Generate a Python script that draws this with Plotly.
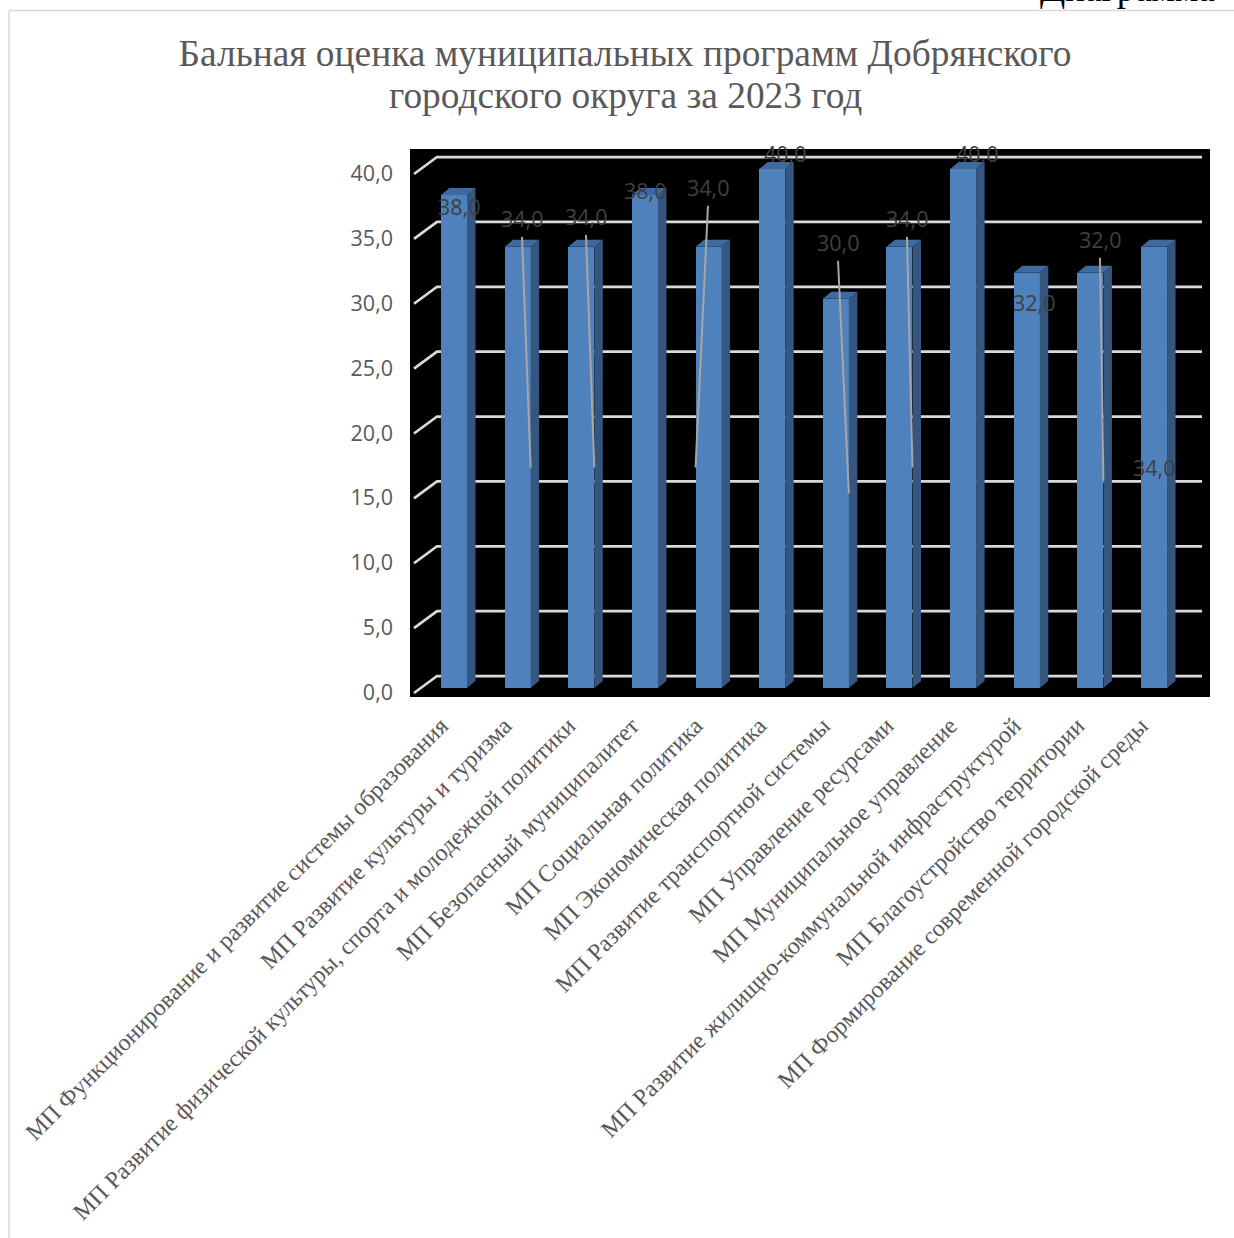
import plotly.graph_objects as go

title_line1 = "Бальная оценка муниципальных программ Добрянского"
title_line2 = "городского округа за 2023 год"
categories = [
    "МП Функционирование и развитие системы образования",
    "МП Развитие культуры и туризма",
    "МП Развитие физической культуры, спорта и молодежной политики",
    "МП Безопасный муниципалитет",
    "МП Социальная политика",
    "МП Экономическая политика",
    "МП Развитие транспортной системы",
    "МП Управление ресурсами",
    "МП Муниципальное управление",
    "МП Развитие жилищно-коммунальной инфраструктурой",
    "МП Благоустройство территории",
    "МП Формирование современной городской среды",
]
values = [38.0, 34.0, 34.0, 38.0, 34.0, 40.0, 30.0, 34.0, 40.0, 32.0, 32.0, 34.0]
y_ticks = [0, 5, 10, 15, 20, 25, 30, 35, 40]

# Layout constants (pixels)
W, H = 1234, 1238
L, R, T, B = 410, 1210, 149, 697
X0, XS = 454.0, 63.64      # px of category 0, px per category
Y0_BAR, Y0_TICK, YS = 688.0, 692.5, 12.975
BAR_W = 26.0
DX, DY = 8.5, 7.0

# label centre offset (px) from the bar-front-top point; leader side (+1 right, -1 left, 0 none)
leader_sides = [0, 1, 1, 0, -1, 0, 1, 1, 0, 0, 1, 0]
label_offsets = [
    (5, 12), (4.4, -28), (4.7, -30), (0.1, -4), (-0.6, -59), (12.8, -16),
    (2.2, -56), (7.5, -28), (13.9, -16), (7.2, 30), (9.6, -33), (0, 221),
]

n = len(categories)
xs = list(range(n))
ux = lambda px: px / XS
uy = lambda px: px / YS
half = ux(BAR_W) / 2
px_x = lambda px: (px - X0) / XS

fig = go.Figure()

# Back-wall grid with slanted floor edges, on the main axis (drawn beneath the overlay)
gx, gy = [], []
for t in y_ticks:
    gx += [px_x(414), px_x(437), px_x(1202), None]
    gy += [t + uy(Y0_TICK - 693), t + uy(Y0_TICK - 676), t + uy(Y0_TICK - 676), None]
fig.add_trace(go.Scatter(x=gx, y=gy, mode="lines", line=dict(color="#d9d9d9", width=2.75),
                         hoverinfo="skip", showlegend=False, xaxis="x", yaxis="y"))

# Front faces
fig.add_trace(go.Bar(x=xs, y=values, width=ux(BAR_W), marker=dict(color="#4f81bd", line=dict(width=0)),
                     showlegend=False, xaxis="x", yaxis="y2"))

# Side and top faces derived from the values
sx, sy, tx, ty = [], [], [], []
for i, v in zip(xs, values):
    l, r = i - half, i + half
    d, e = ux(DX), uy(DY)
    sx += [r, r + d, r + d, r, r, None]
    sy += [0, e, v + e, v, 0, None]
    tx += [l, r, r + d, l + d, l, None]
    ty += [v, v, v + e, v + e, v, None]
fig.add_trace(go.Scatter(x=sx, y=sy, mode="lines", fill="toself", fillcolor="#35567f",
                         line=dict(width=0), hoverinfo="skip", showlegend=False, xaxis="x", yaxis="y2"))
fig.add_trace(go.Scatter(x=tx, y=ty, mode="lines", fill="toself", fillcolor="#3f6aa0",
                         line=dict(width=0), hoverinfo="skip", showlegend=False, xaxis="x", yaxis="y2"))

# Leader lines from the labels to the middle of the bar edge
lx, ly = [], []
for i, v, (ox, oy), s in zip(xs, values, label_offsets, leader_sides):
    if s:
        lx += [i + ux(ox), i + s * half, None]
        ly += [v - uy(oy) - uy(18), v / 2, None]
fig.add_trace(go.Scatter(x=lx, y=ly, mode="lines", line=dict(color="#a6a6a6", width=2),
                         hoverinfo="skip", showlegend=False, xaxis="x", yaxis="y2"))

annotations = [
    dict(x=i, y=v, xref="x", yref="y2", text=f"{v:.1f}".replace(".", ","), showarrow=False,
         xshift=ox, yshift=-oy, xanchor="center", yanchor="middle",
         font=dict(family="Open Sans", size=21.5, color="#404040"))
    for i, v, (ox, oy) in zip(xs, values, label_offsets)
]
# Clipped caption at the very top of the page
annotations.append(dict(x=(1127 - L) / (R - L), y=(B - 11) / (B - T), xref="paper", yref="paper",
                        text="Диаграмма", showarrow=False, xanchor="center", yanchor="bottom",
                        font=dict(family="Liberation Serif", size=37, color="#000000")))
# Second title line (tighter line spacing than a <br> would give)
annotations.append(dict(x=(625 - L) / (R - L), y=(B - 96) / (B - T), xref="paper", yref="paper",
                        text=title_line2, showarrow=False, xanchor="center", yanchor="middle",
                        font=dict(family="Liberation Serif", size=37.4, color="#595959")))

fig.update_layout(
    width=W, height=H, autosize=False,
    margin=dict(l=L, r=W - R, t=T, b=H - B, pad=0),
    paper_bgcolor="#ffffff", plot_bgcolor="#000000",
    separators=", ", showlegend=False, bargap=0,
    title=dict(text=title_line1, x=625 / W, xanchor="center", xref="container", y=1 - 53 / H, yanchor="middle",
               yref="container", font=dict(family="Liberation Serif", size=37.4, color="#595959")),
    xaxis=dict(range=[px_x(L), px_x(R)], tickmode="array", tickvals=xs, ticktext=categories,
               tickangle=-45, showgrid=False, zeroline=False, showline=False, ticks="",
               ticklabelstandoff=9, ticklabelshift=-13,
               tickfont=dict(family="Liberation Serif", size=24, color="#595959")),
    yaxis=dict(range=[(Y0_TICK - B) / YS, (Y0_TICK - T) / YS], tickmode="array", tickvals=y_ticks,
               tickformat=".1f", showgrid=False, zeroline=False, showline=False, ticks="",
               ticklabelstandoff=16,
               tickfont=dict(family="Open Sans", size=21.5, color="#595959")),
    yaxis2=dict(range=[(Y0_BAR - B) / YS, (Y0_BAR - T) / YS], overlaying="y", visible=False),
    annotations=annotations,
    shapes=[
        dict(type="line", xref="paper", yref="paper", layer="below", x0=(9 - L) / (R - L),
             x1=(W - L) / (R - L), y0=(B - 10.5) / (B - T), y1=(B - 10.5) / (B - T),
             line=dict(color="#d9d9d9", width=1.5)),
        dict(type="line", xref="paper", yref="paper", layer="below", x0=(9 - L) / (R - L), x1=(9 - L) / (R - L),
             y0=(B - 10.5) / (B - T), y1=(B - H) / (B - T), line=dict(color="#d9d9d9", width=1.5)),
    ],
)

fig.write_html("out.html", config=dict(displayModeBar=False),
               post_script="document.body.style.margin='0';document.documentElement.style.overflow='hidden';")
